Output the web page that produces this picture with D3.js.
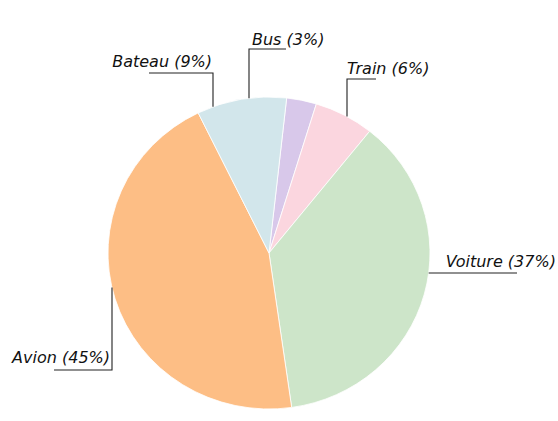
<!DOCTYPE html>
<html>
<head>
<meta charset="utf-8">
<script src="https://cdn.jsdelivr.net/npm/d3@7"></script>
<style>
  html, body { margin: 0; padding: 0; background: #ffffff; }
  svg { display: block; }
  .lbl { font-family: "DejaVu Sans", "Noto Sans", sans-serif; font-style: italic; font-size: 16px; fill: #111; }
</style>
</head>
<body>
<svg id="chart" width="558" height="421"></svg>
<script>
// ---- data ----
const categories = ["Bus", "Train", "Voiture", "Avion", "Bateau"];
const shares = [3, 6, 37, 45, 9];           // percent
const colors = ["#d8c8ea", "#fbd6df", "#cde5c9", "#fdbe85", "#d2e6eb"];

// ---- label layout (annotation geometry, px) ----
// kind: "up" / "down" = vertical leader from the pie edge to an elbow, then horizontal
//       "side"        = horizontal leader from the pie edge
const labelLayout = {
  Bus:     { kind: "up",   x: 249, y: 49,  end: 286, anchor: "start", tx: 3,  ty: -4 },
  Train:   { kind: "up",   x: 347, y: 79,  end: 376, anchor: "start", tx: 0,  ty: -5 },
  Voiture: { kind: "side", x: null, y: 273, end: 517, anchor: "start", tx: 17, ty: -6 },
  Avion:   { kind: "down", x: 112, y: 370, end: 54,  anchor: "end",   tx: -2, ty: -7 },
  Bateau:  { kind: "up",   x: 213, y: 73,  end: 149, anchor: "end",   tx: -1, ty: -6 }
};

const width = 558, height = 421;
const cx = 269, cy = 253;
const ry = 156, sx = 1.032;           // pie is slightly wider than tall
const rx = ry * sx;
const startAngle = 6.3 * Math.PI / 180;

const svg = d3.select("#chart");
const data = categories.map((c, i) => ({ name: c, value: shares[i], color: colors[i] }));

const pie = d3.pie().value(d => d.value).sort(null)
  .startAngle(startAngle).endAngle(startAngle + 2 * Math.PI);
const arc = d3.arc().innerRadius(0).outerRadius(ry);

const g = svg.append("g").attr("transform", `translate(${cx},${cy}) scale(${sx},1)`);
g.selectAll("path.slice")
  .data(pie(data))
  .join("path")
  .attr("class", "slice")
  .attr("d", arc)
  .attr("fill", d => d.data.color)
  .attr("stroke", "#ffffff")
  .attr("stroke-opacity", 0.8)
  .attr("stroke-width", 1)
  .attr("vector-effect", "non-scaling-stroke");

// ---- labels ----
const lg = svg.append("g");
data.forEach(d => {
  const L = labelLayout[d.name];
  let pts;
  if (L.kind === "side") {
    const t = (L.y - cy) / ry;
    const ex = cx + rx * Math.sqrt(Math.max(0, 1 - t * t));
    pts = [[ex, L.y], [L.end, L.y]];
    L.x = ex;
  } else {
    const t = (L.x - cx) / rx;
    const h = ry * Math.sqrt(Math.max(0, 1 - t * t));
    const ey = L.kind === "up" ? cy - h : cy + h;
    pts = [[L.x, ey], [L.x, L.y], [L.end, L.y]];
  }
  lg.append("path")
    .attr("d", d3.line()(pts))
    .attr("fill", "none")
    .attr("stroke", "#222")
    .attr("stroke-width", 1.1);
  lg.append("text")
    .attr("class", "lbl")
    .attr("x", L.x + L.tx)
    .attr("y", L.y + L.ty)
    .attr("text-anchor", L.anchor)
    .text(`${d.name} (${d.value}%)`);
});
</script>
</body>
</html>
